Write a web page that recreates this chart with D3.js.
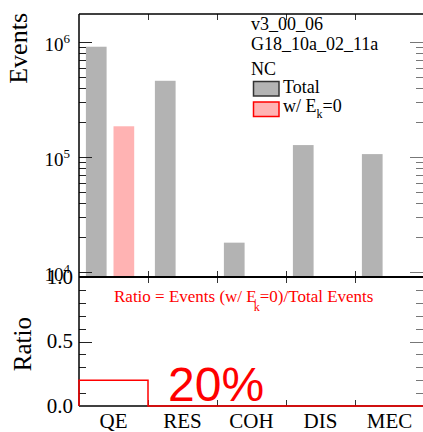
<!DOCTYPE html>
<html><head><meta charset="utf-8">
<script src="https://cdn.jsdelivr.net/npm/d3@7"></script>
<style>
html,body{margin:0;padding:0;background:#fff;}
svg{display:block;}
</style></head>
<body>
<svg id="c" width="423" height="432"></svg>
<script>
const categories = ["QE","RES","COH","DIS","MEC"];
const totalEvents = [910000, 460000, 18000, 127000, 106000];
const ek0Events = [185000, 0, 0, 0, 0];
const ratioValues = [0.20, 0, 0, 0, 0];
const ratioTicks = [0, 0.5, 1.0];
const ratioTickLabels = ["0.0", "0.5", "1.0"];
const logMajorTicks = [1e4, 1e5, 1e6];
const logTickExponents = ["4", "5", "6"];
const legendHeader = ["v3_00_06", "G18_10a_02_11a", "NC"];

const SERIF = "\"Liberation Serif\", \"Times New Roman\", serif";
const SANS = "\"Liberation Sans\", Arial, sans-serif";
const svg = d3.select("#c");
const L = 79, R = 424, T1 = 14, B1 = 277, T2 = 277, B2 = 406;

const x = d3.scaleBand().domain(categories).range([L, R]).padding(0);
const w = x.bandwidth();
const yLog = d3.scaleLog().domain([9050, 1.752e6]).range([B1, T1]);
const yR = d3.scaleLinear().domain([0, 1]).range([B2, T2]);

function txt(sel) { return sel.append("text").style("font-family", SERIF); }

// bars
const gBars = svg.append("g");
gBars.selectAll("rect.tot").data(categories).join("rect")
  .attr("x", d => x(d) + 0.1 * w).attr("width", 0.3 * w)
  .attr("y", (d, i) => yLog(totalEvents[i]))
  .attr("height", (d, i) => B1 - yLog(totalEvents[i]))
  .attr("fill", "#b3b3b3");
gBars.selectAll("rect.ek").data(categories.filter((d, i) => ek0Events[i] > 0)).join("rect")
  .attr("x", d => x(d) + 0.5 * w).attr("width", 0.3 * w)
  .attr("y", d => yLog(ek0Events[categories.indexOf(d)]))
  .attr("height", d => B1 - yLog(ek0Events[categories.indexOf(d)]))
  .attr("fill", "#ffb3b3");

function hline(x1, x2, y, col, sw) {
  svg.append("line").attr("x1", x1).attr("x2", x2).attr("y1", y).attr("y2", y)
    .attr("stroke", col).attr("stroke-width", sw || 1);
}
function vline(xx, y1, y2, col, sw) {
  svg.append("line").attr("x1", xx).attr("x2", xx).attr("y1", y1).attr("y2", y2)
    .attr("stroke", col).attr("stroke-width", sw || 1);
}

// log ticks
const logTicks = yLog.ticks().filter(v => yLog(v) >= T1 && yLog(v) <= B1);
logTicks.forEach(v => {
  const major = Math.abs(Math.log10(v) - Math.round(Math.log10(v))) < 1e-9;
  const len = major ? 13 : 7;
  const yy = Math.round(yLog(v)) + 0.5;
  hline(L, L + len, yy, "#222");
  hline(R - len - 1, R, yy, "#777");
});
// ratio ticks
d3.range(0, 1.0001, 0.1).forEach(v => {
  const major = Math.abs(v * 2 - Math.round(v * 2)) < 1e-6;
  const len = major ? 13 : 7;
  const yy = Math.round(yR(v)) + 0.5;
  if (v > 0.001 && v < 0.999) {
    hline(L, L + len, yy, "#222");
    hline(R - len - 1, R, yy, "#777");
  }
});
// category boundary ticks
categories.slice(1).forEach(d => {
  const xx = Math.round(x(d)) + 0.5;
  vline(xx, T1, T1 + 6, "#333");
  vline(xx, B1 - 6, B1, "#333");
  vline(xx, T2, T2 + 6, "#333");
  vline(xx, B2 - 6, B2, "#333");
});

// frames
svg.append("line").attr("x1", L).attr("x2", R).attr("y1", T1).attr("y2", T1).attr("stroke", "#000").attr("stroke-width", 1.5);
svg.append("line").attr("x1", L).attr("x2", L).attr("y1", T1).attr("y2", B2).attr("stroke", "#000").attr("stroke-width", 1.5);
svg.append("line").attr("x1", L).attr("x2", R).attr("y1", B1).attr("y2", B1).attr("stroke", "#000").attr("stroke-width", 2);
svg.append("line").attr("x1", L).attr("x2", R).attr("y1", B2).attr("y2", B2).attr("stroke", "#000").attr("stroke-width", 1.5);

// ratio step histogram
const stepPts = [];
categories.forEach((d, i) => {
  stepPts.push([x(d), yR(ratioValues[i])]);
  stepPts.push([x(d) + w, yR(ratioValues[i])]);
});
const pathD = "M" + L + "," + yR(0) + "L" + stepPts.map(p => p.join(",")).join("L") + "L" + R + "," + yR(0);
svg.append("path").attr("d", pathD).attr("fill", "none").attr("stroke", "#ff0000").attr("stroke-width", 1.5);

// log tick labels
logMajorTicks.forEach((v, i) => {
  const t = txt(svg).attr("x", 70).attr("y", yLog(v) + 9)
    .attr("text-anchor", "end").attr("font-size", 19).attr("fill", "#000");
  t.append("tspan").text("10");
  t.append("tspan").attr("dy", -8).attr("font-size", 13).text(logTickExponents[i]);
});
// ratio tick labels
ratioTicks.forEach((v, i) => {
  txt(svg).attr("x", 73).attr("y", yR(v) + 6.5)
    .attr("text-anchor", "end").attr("font-size", 21).attr("fill", "#000")
    .text(ratioTickLabels[i]);
});
// category labels
categories.forEach(d => {
  txt(svg).attr("x", x(d) + w / 2).attr("y", 428)
    .attr("text-anchor", "middle").attr("font-size", 21).attr("fill", "#000").text(d);
});

// axis titles
txt(svg).attr("transform", "translate(26.5,13) rotate(-90)")
  .attr("text-anchor", "end").attr("font-size", 26).attr("fill", "#000").text("Events");
txt(svg).attr("transform", "translate(30.5,317) rotate(-90)")
  .attr("text-anchor", "end").attr("font-size", 25).attr("fill", "#000").text("Ratio");

// legend
const legY = [30, 49.5, 75];
legendHeader.forEach((s, i) => {
  txt(svg).attr("x", 251).attr("y", legY[i]).attr("font-size", 18).attr("fill", "#000").text(s);
});
svg.append("rect").attr("x", 253.5).attr("y", 81.5).attr("width", 25.5).attr("height", 14.5)
  .attr("fill", "#b3b3b3").attr("stroke", "#333").attr("stroke-width", 1.5);
txt(svg).attr("x", 283).attr("y", 93).attr("font-size", 18).attr("fill", "#000").text("Total");
svg.append("rect").attr("x", 253.5).attr("y", 102).attr("width", 25.5).attr("height", 14.5)
  .attr("fill", "#ffb3b3").attr("stroke", "#ff0000").attr("stroke-width", 1.5);
const lt = txt(svg).attr("x", 283).attr("y", 112).attr("font-size", 18).attr("fill", "#000");
lt.append("tspan").text("w/ E");
lt.append("tspan").attr("dy", 6).attr("font-size", 12).text("k");
lt.append("tspan").attr("dy", -6).text("=0");

// ratio formula
const rt = txt(svg).attr("x", 114).attr("y", 302).attr("font-size", 17).attr("fill", "#ff0000");
rt.append("tspan").text("Ratio = Events (w/ E");
rt.append("tspan").attr("dy", 9).attr("dx", -3).attr("font-size", 12).text("k");
rt.append("tspan").attr("dy", -9).text("=0)/Total Events");

// big percent
svg.append("text").attr("x", 168).attr("y", 401).attr("font-size", 48)
  .style("font-family", SANS).attr("fill", "#ff0000").text("20%");
</script>
</body></html>
